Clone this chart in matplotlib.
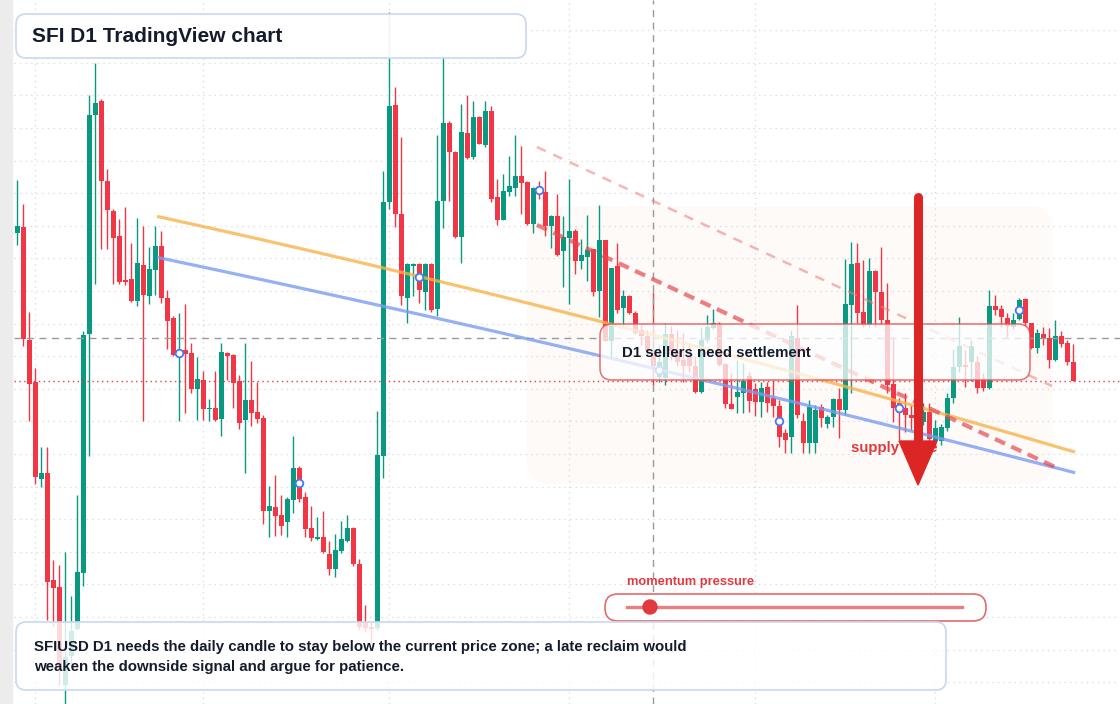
import numpy as np
import matplotlib
matplotlib.use("Agg")
import matplotlib.pyplot as plt
from matplotlib.patches import FancyBboxPatch, Polygon, Circle, Rectangle
from matplotlib.lines import Line2D
from matplotlib.transforms import Affine2D

plt.rcParams['font.family'] = ['Liberation Sans', 'DejaVu Sans']
plt.rcParams['lines.scale_dashes'] = False

# SFIUSD daily candles, prices in 1/1000 USD
opens = np.array([
    335.25, 338.6, 282.1, 260.8, 212.65, 215.55, 162.0, 158.5, 109.5, 124.0,
    137.5, 165.5, 284.75, 394.25, 401.5, 361.5, 346.5, 334.0, 312.0, 312.5,
    301.65, 319.5, 304.15, 317.15, 329.0, 303.0, 293.0, 274.5, 277.0, 275.5,
    257.5, 262.0, 247.35, 248.0, 242.65, 275.5, 274.5, 261.65, 242.15, 252.0,
    246.0, 243.0, 196.5, 198.5, 194.5, 191.15, 202.0, 218.15, 203.5, 188.0,
    182.75, 183.25, 175.0, 167.5, 176.5, 181.7, 187.8, 170.0, 141.0, 138.0,
    138.0, 224.0, 351.0, 399.5, 345.0, 303.0, 319.0, 320.0, 306.15, 320.0,
    297.35, 351.5, 390.35, 376.0, 333.65, 385.65, 373.5, 393.5, 379.5, 396.5,
    353.65, 342.0, 356.15, 358.15, 364.0, 361.0, 340.0, 358.5, 356.15, 339.0,
    344.0, 326.65, 333.15, 336.5, 321.65, 323.65, 327.35, 306.65, 332.0, 281.65,
    319.0, 297.85, 304.0, 295.65, 287.0, 284.0, 276.0, 263.5, 263.0, 285.0,
    276.5, 272.0, 273.5, 269.0, 256.0, 282.0, 288.0, 290.0, 270.0, 250.0,
    253.5, 255.5, 264.0, 257.5, 251.0, 258.5, 253.0, 249.0, 235.5, 233.5,
    283.0, 241.5, 230.5, 230.5, 248.5, 240.0, 243.5, 252.5, 247.0, 299.5,
    320.5, 296.0, 289.5, 316.65, 306.15, 292.0, 260.0, 250.5, 247.85, 244.5,
    243.0, 241.15, 246.15, 231.5, 231.5, 237.85, 252.85, 268.5, 269.0, 271.0,
    271.0, 262.0, 258.0, 299.0, 297.35, 292.85, 288.5, 292.35, 302.35, 290.35,
    278.15, 285.0, 282.85, 272.0, 284.0, 280.65, 271.15]) / 1000
highs = np.array([
    362.0, 350.0, 296.0, 268.1, 228.5, 228.5, 172.2, 169.5, 176.0, 154.0,
    204.5, 286.5, 404.5, 420.5, 402.5, 367.5, 347.5, 342.5, 348.5, 330.5,
    343.0, 339.0, 328.5, 339.0, 336.65, 307.0, 294.0, 295.5, 300.0, 280.5,
    273.5, 266.65, 252.5, 266.5, 280.35, 276.0, 275.0, 264.5, 280.35, 271.5,
    261.0, 244.5, 209.15, 214.5, 204.65, 203.5, 234.0, 219.0, 206.15, 199.0,
    193.75, 196.25, 181.35, 185.15, 191.5, 194.7, 188.5, 172.5, 149.5, 141.0,
    246.5, 366.7, 446.0, 408.5, 383.5, 320.5, 320.5, 320.5, 320.5, 320.5,
    384.5, 424.5, 391.5, 376.65, 400.0, 404.65, 401.65, 394.0, 401.5, 399.0,
    362.5, 365.0, 374.0, 384.5, 379.0, 361.5, 358.5, 361.5, 366.65, 344.5,
    355.0, 344.0, 362.5, 337.5, 332.5, 344.5, 327.5, 349.5, 332.25, 318.25,
    330.5, 307.0, 304.25, 296.25, 289.5, 287.0, 306.0, 279.5, 290.5, 289.0,
    287.0, 285.5, 280.0, 274.0, 288.5, 294.5, 297.5, 291.0, 270.5, 265.5,
    272.0, 270.5, 266.0, 260.5, 261.0, 261.0, 262.0, 252.0, 237.5, 287.0,
    299.5, 245.5, 252.0, 249.5, 250.0, 244.5, 253.0, 258.0, 322.5, 331.15,
    330.65, 322.0, 323.0, 317.0, 328.65, 310.35, 283.65, 253.0, 255.5, 249.5,
    253.0, 250.5, 250.5, 242.0, 240.0, 255.5, 277.5, 293.5, 277.0, 282.0,
    274.0, 265.5, 307.0, 304.5, 299.5, 295.65, 295.5, 303.15, 303.0, 290.5,
    287.5, 288.65, 287.85, 292.0, 286.65, 282.0, 280.0]) / 1000
lows = np.array([
    329.5, 279.0, 241.5, 209.75, 208.7, 142.2, 139.25, 109.5, 96.0, 119.5,
    137.0, 159.0, 224.0, 310.0, 327.5, 327.5, 310.0, 310.15, 309.5, 301.15,
    299.0, 241.65, 300.0, 304.5, 300.65, 277.5, 274.0, 241.65, 245.5, 255.65,
    242.0, 242.0, 241.5, 241.5, 234.15, 262.0, 248.15, 237.65, 215.65, 239.15,
    240.65, 190.0, 183.65, 184.15, 184.65, 183.65, 195.65, 201.15, 183.35, 181.5,
    182.25, 175.75, 164.7, 163.75, 175.6, 181.0, 168.9, 137.0, 136.0, 131.0,
    137.0, 213.0, 347.5, 338.6, 299.5, 290.5, 304.2, 300.65, 297.0, 296.15,
    294.0, 338.0, 351.65, 332.85, 320.65, 372.35, 372.35, 379.85, 378.35, 351.15,
    339.65, 341.75, 354.0, 354.0, 345.0, 339.5, 335.65, 352.5, 334.0, 328.15,
    324.25, 308.35, 300.0, 315.0, 317.35, 311.65, 304.15, 293.65, 281.5, 273.0,
    295.5, 288.65, 295.0, 285.0, 279.5, 274.5, 259.5, 261.0, 259.5, 272.0,
    269.0, 261.0, 266.0, 255.5, 255.5, 281.0, 287.5, 269.0, 248.0, 247.25,
    245.5, 245.5, 246.0, 244.0, 243.5, 246.0, 243.5, 228.5, 225.5, 225.5,
    243.0, 225.5, 225.5, 225.5, 238.5, 238.0, 238.5, 233.0, 244.5, 255.5,
    290.35, 288.65, 288.5, 288.65, 289.5, 255.35, 241.15, 232.0, 236.15, 237.0,
    237.0, 239.5, 231.15, 228.5, 229.5, 236.5, 250.5, 266.0, 258.5, 261.5,
    255.5, 256.5, 257.5, 294.5, 288.65, 283.65, 287.5, 292.0, 288.65, 277.5,
    275.35, 279.5, 267.85, 271.75, 278.65, 269.5, 261.65]) / 1000
closes = np.array([
    339.0, 282.7, 260.2, 213.3, 215.55, 161.15, 158.0, 119.5, 123.5, 136.5,
    166.0, 284.5, 394.5, 400.5, 361.5, 347.0, 333.15, 311.15, 311.15, 301.65,
    320.5, 304.65, 317.5, 329.0, 302.85, 291.65, 274.65, 276.5, 275.0, 257.5,
    262.5, 247.65, 248.0, 242.0, 276.0, 274.15, 260.65, 240.65, 252.0, 245.65,
    242.65, 196.5, 199.0, 194.15, 189.15, 202.5, 218.15, 202.5, 187.5, 183.25,
    183.5, 176.15, 167.5, 177.0, 182.3, 187.8, 169.85, 138.5, 138.0, 137.5,
    224.5, 351.0, 399.0, 344.75, 304.0, 320.0, 320.0, 307.0, 320.0, 297.0,
    351.5, 390.65, 376.15, 333.35, 386.15, 373.15, 393.5, 380.15, 396.5, 352.65,
    342.0, 356.5, 359.0, 364.0, 360.65, 340.0, 358.15, 356.0, 339.0, 344.0,
    324.5, 333.35, 336.5, 321.65, 324.5, 327.0, 305.85, 332.0, 281.65, 318.15,
    297.0, 304.0, 295.65, 285.65, 284.0, 276.5, 269.0, 271.0, 285.0, 276.5,
    271.0, 269.0, 269.0, 256.0, 282.0, 288.5, 290.5, 269.5, 250.0, 247.5,
    256.0, 261.5, 251.5, 251.0, 258.0, 250.5, 249.0, 233.5, 232.0, 284.0,
    244.5, 230.5, 248.5, 247.0, 243.0, 243.5, 252.5, 247.0, 300.0, 320.25,
    295.65, 289.5, 316.65, 306.15, 291.75, 259.5, 247.85, 245.5, 244.5, 242.85,
    249.5, 246.15, 232.5, 238.0, 238.65, 252.85, 268.65, 279.0, 268.5, 279.0,
    258.0, 258.0, 299.0, 297.0, 293.35, 289.15, 292.0, 302.0, 290.35, 277.85,
    285.35, 282.35, 272.0, 284.0, 279.85, 271.15, 261.65]) / 1000

month_starts = [3, 31, 62, 92, 123, 153]
marker_days = [27, 47, 67, 87, 107, 127, 147, 167]
cursor_day, cursor_price = 106, 0.283

# drawn studies (candle index, price)
orange_x = [23.3, 47.1, 66.8, 86.8, 130.5, 176.3]
orange_y = [0.343, 0.3285, 0.3145, 0.2995, 0.2635, 0.2265]
blue_x = [23.3, 47.1, 66.8, 86.8, 130.5, 176.3]
blue_y = [0.322, 0.3095, 0.2955, 0.282, 0.248, 0.2165]
res_x = [86.6, 172.95]
res_y = [0.3395, 0.2185]
upper_x = [86.6, 172.45]
upper_y = [0.3785, 0.259]

note_lines = ['SFIUSD D1 needs the daily candle to stay below the current price zone; a late reclaim would',
              'weaken the downside signal and argue for patience.']

fig = plt.figure(figsize=(11.2, 7.04), dpi=100)
fig.patch.set_facecolor('white')
ax = fig.add_axes([14 / 1120, 0, 1106 / 1120, 1])
ax.set_xlim(-0.55, 183.78)
ax.set_ylim(0.100, 0.452)
for s in ax.spines.values():
    s.set_visible(False)
ax.set_xticks(month_starts)
ax.set_yticks(0.43685 - 0.0163 * np.arange(21))
ax.tick_params(length=0, labelleft=False, labelbottom=False)
ax.grid(color='#d8dce3', linestyle=(0, (1, 3)), linewidth=0.9)
ax.set_axisbelow(True)

# pixel space helper (origin top-left)
pix = Affine2D().scale(0.01, -0.01).translate(0, 7.04) + fig.dpi_scale_trans

fig.add_artist(Rectangle((0, 0), 11.5 / 1120, 1, transform=fig.transFigure,
                         color='#ececec', zorder=0))


def rbox(x0, y0, x1, y1, r, z, **kw):
    p = FancyBboxPatch((x0, y0), x1 - x0, y1 - y0,
                       boxstyle=f"round,pad=0,rounding_size={r}",
                       transform=pix, zorder=z, clip_on=False, **kw)
    ax.add_patch(p)
    return p


def smooth(xs, ys):
    # gentle curve through the anchor points
    c = np.polyfit(xs, ys, 2)
    xx = np.linspace(xs[0], xs[-1], 200)
    return xx, np.polyval(c, xx)


# faint zone behind price
rbox(527, 206, 1053, 484, 24, 0.5, facecolor='#f8ece5', edgecolor='none', alpha=0.25)

# candles
idx = np.arange(len(opens))
up = closes >= opens
col = np.where(up, '#089981', '#f23645')
ax.vlines(idx, lows, highs, colors=col, linewidth=1.0, zorder=2)
ax.bar(idx, np.maximum(np.abs(closes - opens), 0.0008),
       bottom=np.minimum(opens, closes), width=0.75, color=col,
       linewidth=0, zorder=2.1)

# crosshair + last price
ax.axvline(cursor_day, color='#9a9a9a', lw=1, ls=(0, (5, 4)), zorder=2.5)
ax.axhline(cursor_price, color='#9a9a9a', lw=1, ls=(0, (5, 4)), zorder=2.5)
ax.axhline(closes[-1], color='#f23645', lw=1, ls=(0, (1, 2.5)), zorder=2.5)

# studies
ax.plot(*smooth(orange_x, orange_y), color='#f7b34a', lw=2.3, alpha=0.8,
        zorder=3, solid_capstyle='butt')
ax.plot(*smooth(blue_x, blue_y), color='#7b9cf2', lw=2.3, alpha=0.8,
        zorder=3, solid_capstyle='butt')
ax.plot(upper_x, upper_y, color='#ee7b7b', lw=1.8, alpha=0.55,
        ls=(0, (7, 6)), zorder=3)
ax.plot(res_x, res_y, color='#e5484d', lw=3, alpha=0.7,
        ls=(0, (8, 5)), zorder=3)

mids = (opens[marker_days] + closes[marker_days]) / 2
ax.plot(marker_days, mids, 'o', mfc='white', mec='#4a78f0', ms=5.5, mew=1.3,
        zorder=3.3)

# label box
rbox(600, 324, 1030, 380, 12, 4, facecolor=(1, 1, 1, 0.75),
     edgecolor=(0.88, 0.3, 0.3, 0.75), linewidth=1.2)
ax.text(622, 353, 'D1 sellers need settlement', transform=pix, fontsize=10.8,
        fontweight='bold', color='#141b2d', va='center', ha='left', zorder=4.5)

# supply arrow
ax.text(851, 448, 'supply zone', transform=pix, fontsize=10.8,
        fontweight='bold', color='#e03a3e', va='center', ha='left', zorder=5)
ax.add_line(Line2D([918, 918], [197, 444], transform=pix, color='#dc2626',
                   lw=6.5, solid_capstyle='round', zorder=6))
ax.add_patch(Polygon([[899, 441], [937, 441], [918, 485]], closed=True,
                     transform=pix, color='#dc2626', zorder=6))

# momentum widget
ax.text(627, 582, 'momentum pressure', transform=pix, fontsize=9.3,
        fontweight='bold', color='#e03a3e', va='center', ha='left', zorder=7)
rbox(605, 594, 986, 621, 13, 7, facecolor=(1, 1, 1, 0.92),
     edgecolor='#e66a6a', linewidth=1.2)
ax.add_line(Line2D([627, 962], [607, 607], transform=pix, color='#e57373',
                   lw=2.4, alpha=0.9, zorder=7.2))
ax.add_patch(Circle((650, 607), 7, transform=pix, color='#e0393e', zorder=7.4))

# title and note panels
rbox(16, 14, 526, 58, 10, 8, facecolor=(1, 1, 1, 0.92),
     edgecolor='#c9d8f0', linewidth=1.2)
ax.text(32, 36.5, 'SFI D1 TradingView chart', transform=pix, fontsize=15,
        fontweight='bold', color='#141b2d', va='center', ha='left', zorder=8.5)

rbox(16, 622, 946, 690, 10, 8, facecolor=(1, 1, 1, 0.82),
     edgecolor='#c9d8f0', linewidth=1.2)
for k, line in enumerate(note_lines):
    ax.text(34, 647.5 + 20 * k, line, transform=pix, fontsize=10.8,
            fontweight='bold', color='#141b2d', va='center', ha='left',
            zorder=8.5)

fig.savefig('out.png', dpi=100)
